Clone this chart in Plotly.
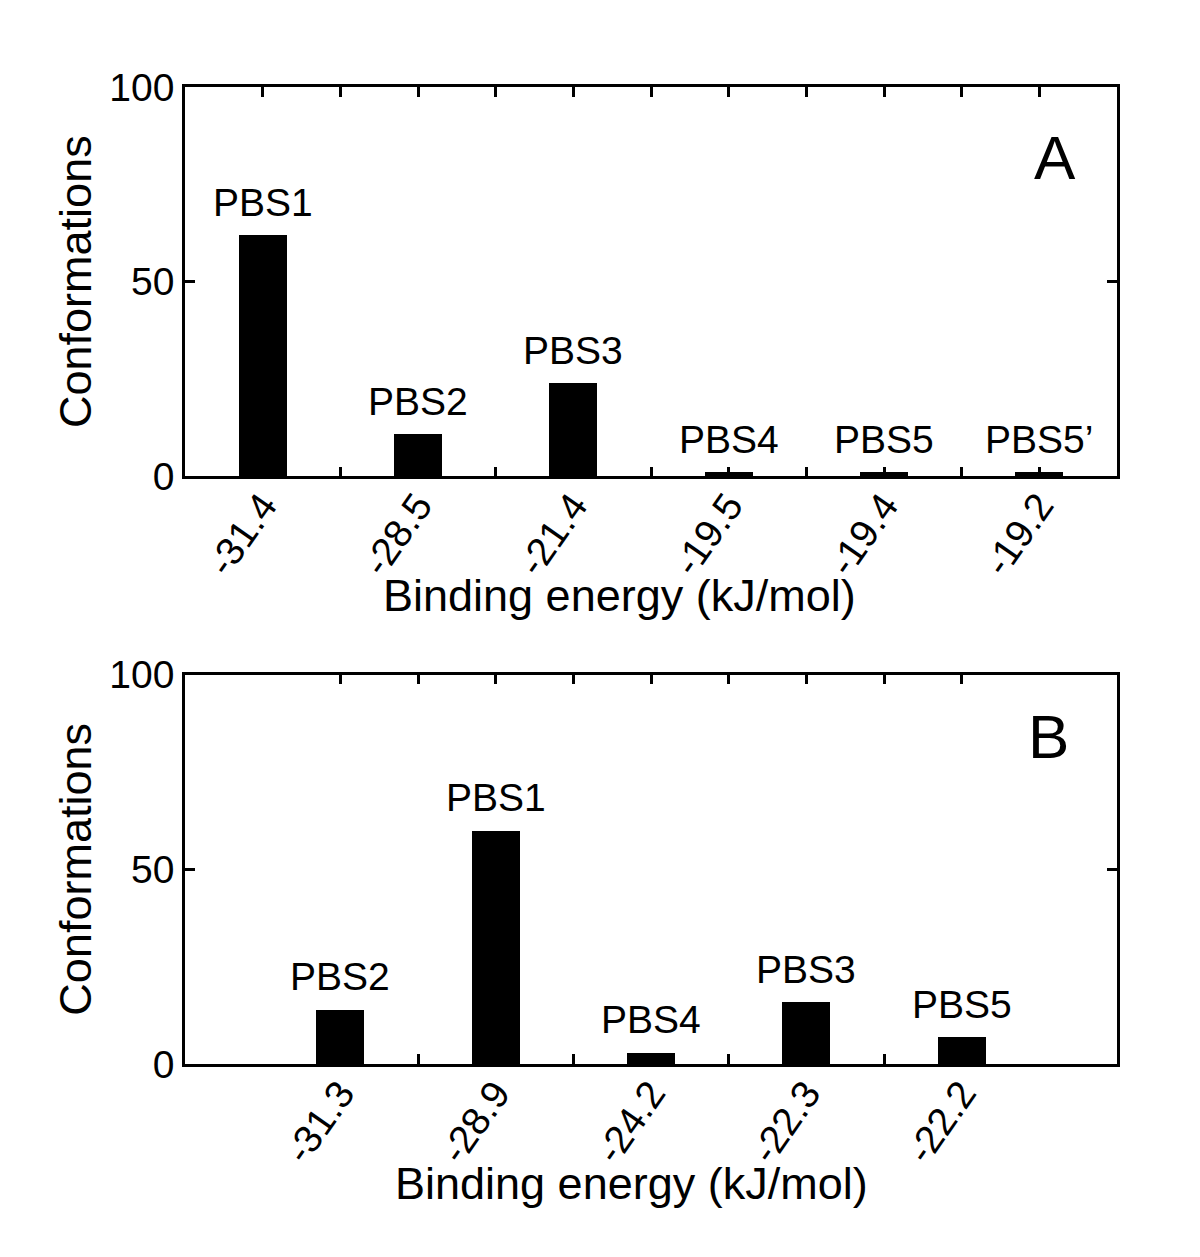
import plotly.graph_objects as go
from plotly.subplots import make_subplots

# Panel A data
energies_a = ["-31.4", "-28.5", "-21.4", "-19.5", "-19.4", "-19.2"]
counts_a = [62, 11, 24, 1, 1, 1]
sites_a = ["PBS1", "PBS2", "PBS3", "PBS4", "PBS5", "PBS5\u2019"]

# Panel B data
energies_b = ["-31.3", "-28.9", "-24.2", "-22.3", "-22.2"]
counts_b = [14, 60, 3, 16, 7]
sites_b = ["PBS2", "PBS1", "PBS4", "PBS3", "PBS5"]

y_ticks = [0, 50, 100]
panel_letters = ["A", "B"]
x_title = "Binding energy (kJ/mol)"
y_title = "Conformations"

FONT = "Arial, Liberation Sans, sans-serif"
BLACK = "#000000"

fig = make_subplots(rows=2, cols=1, vertical_spacing=0.203)

panels = [
    (energies_a, counts_a, sites_a, [-0.5, len(energies_a) - 0.5], 0.466),
    (energies_b, counts_b, sites_b, [-1, len(energies_b)], 0.479),
]

for r, (labels, counts, sites, xr, title_x) in enumerate(panels, start=1):
    xs = list(range(len(labels)))
    fig.add_trace(
        go.Bar(x=xs, y=counts, width=0.31, marker=dict(color=BLACK, line=dict(width=0)),
               showlegend=False, hoverinfo="skip"),
        row=r, col=1,
    )
    tickvals = [i / 2 for i in range(2 * len(labels) - 1)]
    ticktext = [labels[i // 2] if i % 2 == 0 else "" for i in range(2 * len(labels) - 1)]
    fig.update_xaxes(
        row=r, col=1, range=xr, tickmode="array", tickvals=tickvals, ticktext=ticktext,
        tickangle=-55, ticks="inside", ticklen=10, tickwidth=2.5, tickcolor=BLACK,
        showline=True, linecolor=BLACK, linewidth=2.5, mirror="ticks", showgrid=False,
        zeroline=False, tickfont=dict(family=FONT, size=39, color=BLACK),
        ticklabelstandoff=-12,
    )
    fig.update_yaxes(
        row=r, col=1, range=[0, 100], tickmode="array", tickvals=y_ticks,
        ticks="inside", ticklen=10, tickwidth=2.5, tickcolor=BLACK,
        showline=True, linecolor=BLACK, linewidth=2.5, mirror="ticks", showgrid=False,
        zeroline=False, tickfont=dict(family=FONT, size=39, color=BLACK),
        title=dict(text=y_title, font=dict(family=FONT, size=45, color=BLACK),
                   standoff=4),
    )
    xref = "x" if r == 1 else f"x{r}"
    yref = "y" if r == 1 else f"y{r}"
    for xi, c, s in zip(xs, counts, sites):
        fig.add_annotation(x=xi, y=c, xref=xref, yref=yref, text=s, showarrow=False,
                           yanchor="bottom", yshift=9,
                           font=dict(family=FONT, size=39, color=BLACK))
    # x-axis title
    fig.add_annotation(x=title_x, y=0, xref=f"{xref} domain", yref=f"{yref} domain",
                       text=x_title, showarrow=False, xanchor="center", yanchor="top",
                       yshift=-92, font=dict(family=FONT, size=45, color=BLACK))

fig.add_annotation(x=0.933, y=0.82, xref="x domain", yref="y domain", text=panel_letters[0],
                   xanchor="center", yanchor="middle",
                   showarrow=False, font=dict(family=FONT, size=62, color=BLACK))
fig.add_annotation(x=0.927, y=0.84, xref="x2 domain", yref="y2 domain", text=panel_letters[1],
                   xanchor="center", yanchor="middle",
                   showarrow=False, font=dict(family=FONT, size=62, color=BLACK))

fig.update_layout(
    width=1184, height=1241,
    margin=dict(l=177, r=75, t=79, b=185),
    plot_bgcolor="white", paper_bgcolor="white",
    bargap=0,
)

fig.write_html("out.html")
